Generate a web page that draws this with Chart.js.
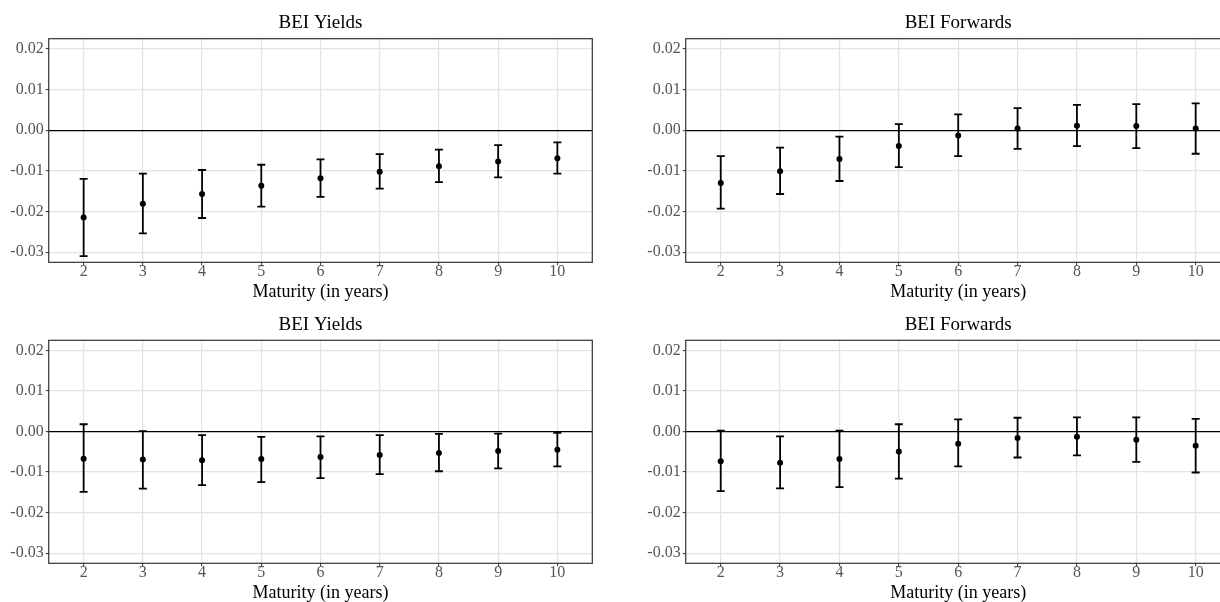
<!DOCTYPE html>
<html>
<head>
<meta charset="utf-8">
<script src="https://cdn.jsdelivr.net/npm/chart.js@4.4.1/dist/chart.umd.min.js"></script>
<style>
html,body{margin:0;padding:0;background:#fff;}
body{width:1220px;height:602px;overflow:hidden;position:relative;}
canvas{position:absolute;}
</style>
</head>
<body>
<canvas id="c1" width="610" height="301" style="left:0;top:0"></canvas>
<canvas id="c2" width="640" height="301" style="left:610px;top:0"></canvas>
<canvas id="c3" width="610" height="305" style="left:0;top:301px"></canvas>
<canvas id="c4" width="640" height="305" style="left:610px;top:301px"></canvas>
<script>
const maturities=[2,3,4,5,6,7,8,9,10];
const yTicks=[-0.03,-0.02,-0.01,0,0.01,0.02];

// top row
const yieldsTopPt=[-0.0215,-0.0181,-0.0157,-0.0137,-0.0118,-0.0102,-0.0089,-0.0077,-0.0069];
const yieldsTopLo=[-0.0310,-0.0254,-0.0216,-0.0188,-0.0164,-0.0144,-0.0128,-0.0116,-0.0107];
const yieldsTopHi=[-0.0120,-0.0107,-0.0098,-0.0085,-0.0072,-0.0059,-0.0048,-0.0037,-0.0030];

const fwdTopPt=[-0.0130,-0.0101,-0.0071,-0.0039,-0.0013,0.0004,0.0011,0.0010,0.0004];
const fwdTopLo=[-0.0193,-0.0157,-0.0125,-0.0091,-0.0064,-0.0046,-0.0039,-0.0044,-0.0058];
const fwdTopHi=[-0.0064,-0.0043,-0.0016,0.0015,0.0039,0.0054,0.0062,0.0064,0.0066];

// bottom row
const yieldsBotPt=[-0.0067,-0.0069,-0.0071,-0.0068,-0.0063,-0.0058,-0.0053,-0.0048,-0.0045];
const yieldsBotLo=[-0.0149,-0.0141,-0.0132,-0.0125,-0.0115,-0.0105,-0.0098,-0.0091,-0.0086];
const yieldsBotHi=[0.0018,0.0001,-0.0009,-0.0013,-0.0012,-0.0009,-0.0006,-0.0005,-0.0003];

const fwdBotPt=[-0.0073,-0.0077,-0.0068,-0.0049,-0.0030,-0.0016,-0.0013,-0.0020,-0.0035];
const fwdBotLo=[-0.0147,-0.0140,-0.0137,-0.0116,-0.0086,-0.0064,-0.0059,-0.0075,-0.0101];
const fwdBotHi=[0.0002,-0.0012,0.0002,0.0018,0.0030,0.0034,0.0035,0.0035,0.0031];

Chart.defaults.font.family="'Liberation Serif', 'Times New Roman', serif";
Chart.defaults.animation=false;

const frame={
  id:'frame',
  afterDraw(chart){
    const a=chart.chartArea,ctx=chart.ctx;
    ctx.save();ctx.strokeStyle='#333';ctx.lineWidth=1.2;
    ctx.strokeRect(a.left,a.top,a.right-a.left,a.bottom-a.top);
    ctx.restore();
  }
};

function panel(id,title,pt,lo,hi,g){
  const bars=maturities.map((m,i)=>({
    data:[{x:m,y:lo[i]},{x:m,y:hi[i]}],
    showLine:true,borderColor:'#000',borderWidth:1.8,
    pointStyle:'line',pointRadius:4,pointHoverRadius:4,pointBorderWidth:1.8,pointBorderColor:'#000'
  }));
  const dots={
    data:maturities.map((m,i)=>({x:m,y:pt[i]})),
    pointStyle:'circle',pointRadius:3,pointHoverRadius:3,backgroundColor:'#000',borderWidth:0
  };
  return new Chart(document.getElementById(id),{
    type:'scatter',
    data:{datasets:[...bars,dots]},
    plugins:[frame],
    options:{
      responsive:false,animation:false,
      layout:{autoPadding:false,padding:{left:0,right:g.padR,top:0,bottom:0}},
      plugins:{
        legend:{display:false},tooltip:{enabled:false},
        title:{display:true,text:title,color:'#000',fullSize:false,
          font:{size:19,weight:'normal',lineHeight:1.2},padding:{top:g.tTop,bottom:g.tBot}}
      },
      scales:{
        x:{
          type:'linear',min:1.41,max:10.59,
          afterBuildTicks:s=>{s.ticks=maturities.map(v=>({value:v}))},
          afterFit:s=>{s.height=g.xH},
          border:{display:false},
          grid:{color:'#e3e3e3',lineWidth:1.2,drawTicks:true,tickLength:3,tickColor:'#333',tickWidth:1},
          ticks:{color:'#555',font:{size:16,lineHeight:0.78},padding:0,maxRotation:0,autoSkip:false},
          title:{display:true,text:'Maturity (in years)',color:'#000',font:{size:18,lineHeight:1},padding:{top:0,bottom:g.xtBot}}
        },
        y:{
          type:'linear',min:-0.0325,max:0.0225,
          afterBuildTicks:s=>{s.ticks=yTicks.map(v=>({value:v}))},
          afterFit:s=>{s.width=g.yW},
          border:{display:false},
          grid:{
            color:c=>c.tick&&c.tick.value===0?'#000':'#e3e3e3',
            lineWidth:c=>c.tick&&c.tick.value===0?1.3:1.2,
            drawTicks:true,tickLength:3,tickColor:'#333',tickWidth:1
          },
          ticks:{color:'#555',font:{size:16,lineHeight:1},padding:2,
            callback:v=>Number(v).toFixed(2)}
        }
      }
    }
  });
}

const topL={padR:17.7,yW:48.7,tTop:11.6,tBot:4.3,xH:38.7,xtBot:0};
const topR={padR:19.3,yW:75.7,tTop:11.6,tBot:4.3,xH:38.7,xtBot:0};
const botL={padR:17.7,yW:48.7,tTop:12.2,tBot:4.3,xH:42.7,xtBot:4};
const botR={padR:19.3,yW:75.7,tTop:12.2,tBot:4.3,xH:42.7,xtBot:4};

panel('c1','BEI Yields',yieldsTopPt,yieldsTopLo,yieldsTopHi,topL);
panel('c2','BEI Forwards',fwdTopPt,fwdTopLo,fwdTopHi,topR);
panel('c3','BEI Yields',yieldsBotPt,yieldsBotLo,yieldsBotHi,botL);
panel('c4','BEI Forwards',fwdBotPt,fwdBotLo,fwdBotHi,botR);
</script>
</body>
</html>
